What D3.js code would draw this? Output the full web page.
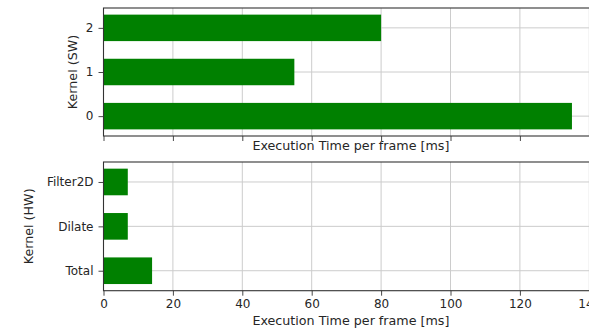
<!DOCTYPE html>
<html>
<head>
<meta charset="utf-8">
<script src="https://cdn.jsdelivr.net/npm/d3@7"></script>
<style>
  html, body { margin: 0; padding: 0; background: #fff; overflow: hidden; }
  svg { display: block; font-family: "DejaVu Sans", sans-serif; }
</style>
</head>
<body>
<svg id="chart" width="589" height="332"></svg>
<script>
// Software kernels (index labels), bottom to top
const swKernels = ["0", "1", "2"];
const swTimes = [135, 55, 80];

// Hardware kernels, bottom to top
const hwKernels = ["Total", "Dilate", "Filter2D"];
const hwTimes = [14, 7, 7];

const xTicks = [0, 20, 40, 60, 80, 100, 120, 140];
const xLabel = "Execution Time per frame [ms]";

const svg = d3.select("#chart");
const left = 103.5;
const xMax = 142.6;
const pxPerUnit = 3.47;

const x = d3.scaleLinear().domain([0, xMax]).range([left, left + xMax * pxPerUnit]);

const textColor = "#262626";
const spineColor = "#333";
const gridColor = "#cccccc";
const barColor = "#008000";
const tickFont = 12;
const labelFont = 12.7;

function panel(cfg) {
  const y = d3.scaleLinear().domain([-0.45, 2.45]).range([cfg.bottom, cfg.top]);
  const g = svg.append("g");
  const right = x.range()[1];

  // grid
  g.append("g").selectAll("line").data(xTicks).join("line")
    .attr("x1", d => x(d)).attr("x2", d => x(d))
    .attr("y1", cfg.top).attr("y2", cfg.bottom)
    .attr("stroke", gridColor).attr("stroke-width", 1);
  g.append("g").selectAll("line").data(cfg.cats).join("line")
    .attr("x1", left).attr("x2", right)
    .attr("y1", (d, i) => y(i)).attr("y2", (d, i) => y(i))
    .attr("stroke", gridColor).attr("stroke-width", 1);

  // bars
  const bh = y(0) - y(0.6);
  g.append("g").selectAll("rect").data(cfg.values).join("rect")
    .attr("x", x(0))
    .attr("y", (d, i) => y(i) - bh / 2)
    .attr("width", d => x(d) - x(0))
    .attr("height", bh)
    .attr("fill", barColor);

  // axes
  const xAxis = d3.axisBottom(x).tickValues(xTicks).tickSize(5).tickPadding(3.5)
    .tickFormat(cfg.showXTicks ? d3.format("d") : () => "");
  const gx = g.append("g").attr("transform", `translate(0,${cfg.bottom})`).call(xAxis);
  gx.select(".domain").remove();
  gx.selectAll("line").attr("stroke", spineColor).attr("stroke-width", 0.9);
  gx.selectAll("text").attr("fill", textColor).attr("font-size", tickFont)
    .attr("font-family", "DejaVu Sans, sans-serif");

  const yPos = d3.scaleOrdinal().domain(cfg.cats).range(cfg.cats.map((c, i) => y(i)));
  const yAxis = d3.axisLeft(yPos).tickSize(5).tickPadding(5);
  const gy = g.append("g").attr("transform", `translate(${left},0)`).call(yAxis);
  gy.select(".domain").remove();
  gy.selectAll("line").attr("stroke", spineColor).attr("stroke-width", 0.9);
  gy.selectAll("text").attr("fill", textColor).attr("font-size", tickFont)
    .attr("font-family", "DejaVu Sans, sans-serif");

  // spines
  g.append("rect").attr("x", left).attr("y", cfg.top)
    .attr("width", right - left).attr("height", cfg.bottom - cfg.top)
    .attr("fill", "none").attr("stroke", spineColor).attr("stroke-width", 1.1);

  // labels
  g.append("text").attr("x", (x(0) + x(xMax)) / 2).attr("y", cfg.xLabelY)
    .attr("text-anchor", "middle").attr("fill", textColor).attr("font-size", labelFont)
    .text(xLabel);
  g.append("text")
    .attr("transform", `translate(${cfg.yLabelX},${(cfg.top + cfg.bottom) / 2}) rotate(-90)`)
    .attr("text-anchor", "middle").attr("dy", "0.35em")
    .attr("fill", textColor).attr("font-size", labelFont)
    .text(cfg.yLabel);
}

panel({ cats: swKernels, values: swTimes, top: 8, bottom: 136,
        showXTicks: false, xLabelY: 149.5, yLabel: "Kernel (SW)", yLabelX: 72.5 });
panel({ cats: hwKernels, values: hwTimes, top: 162, bottom: 290.7,
        showXTicks: true, xLabelY: 324.5, yLabel: "Kernel (HW)", yLabelX: 29 });
</script>
</body>
</html>
